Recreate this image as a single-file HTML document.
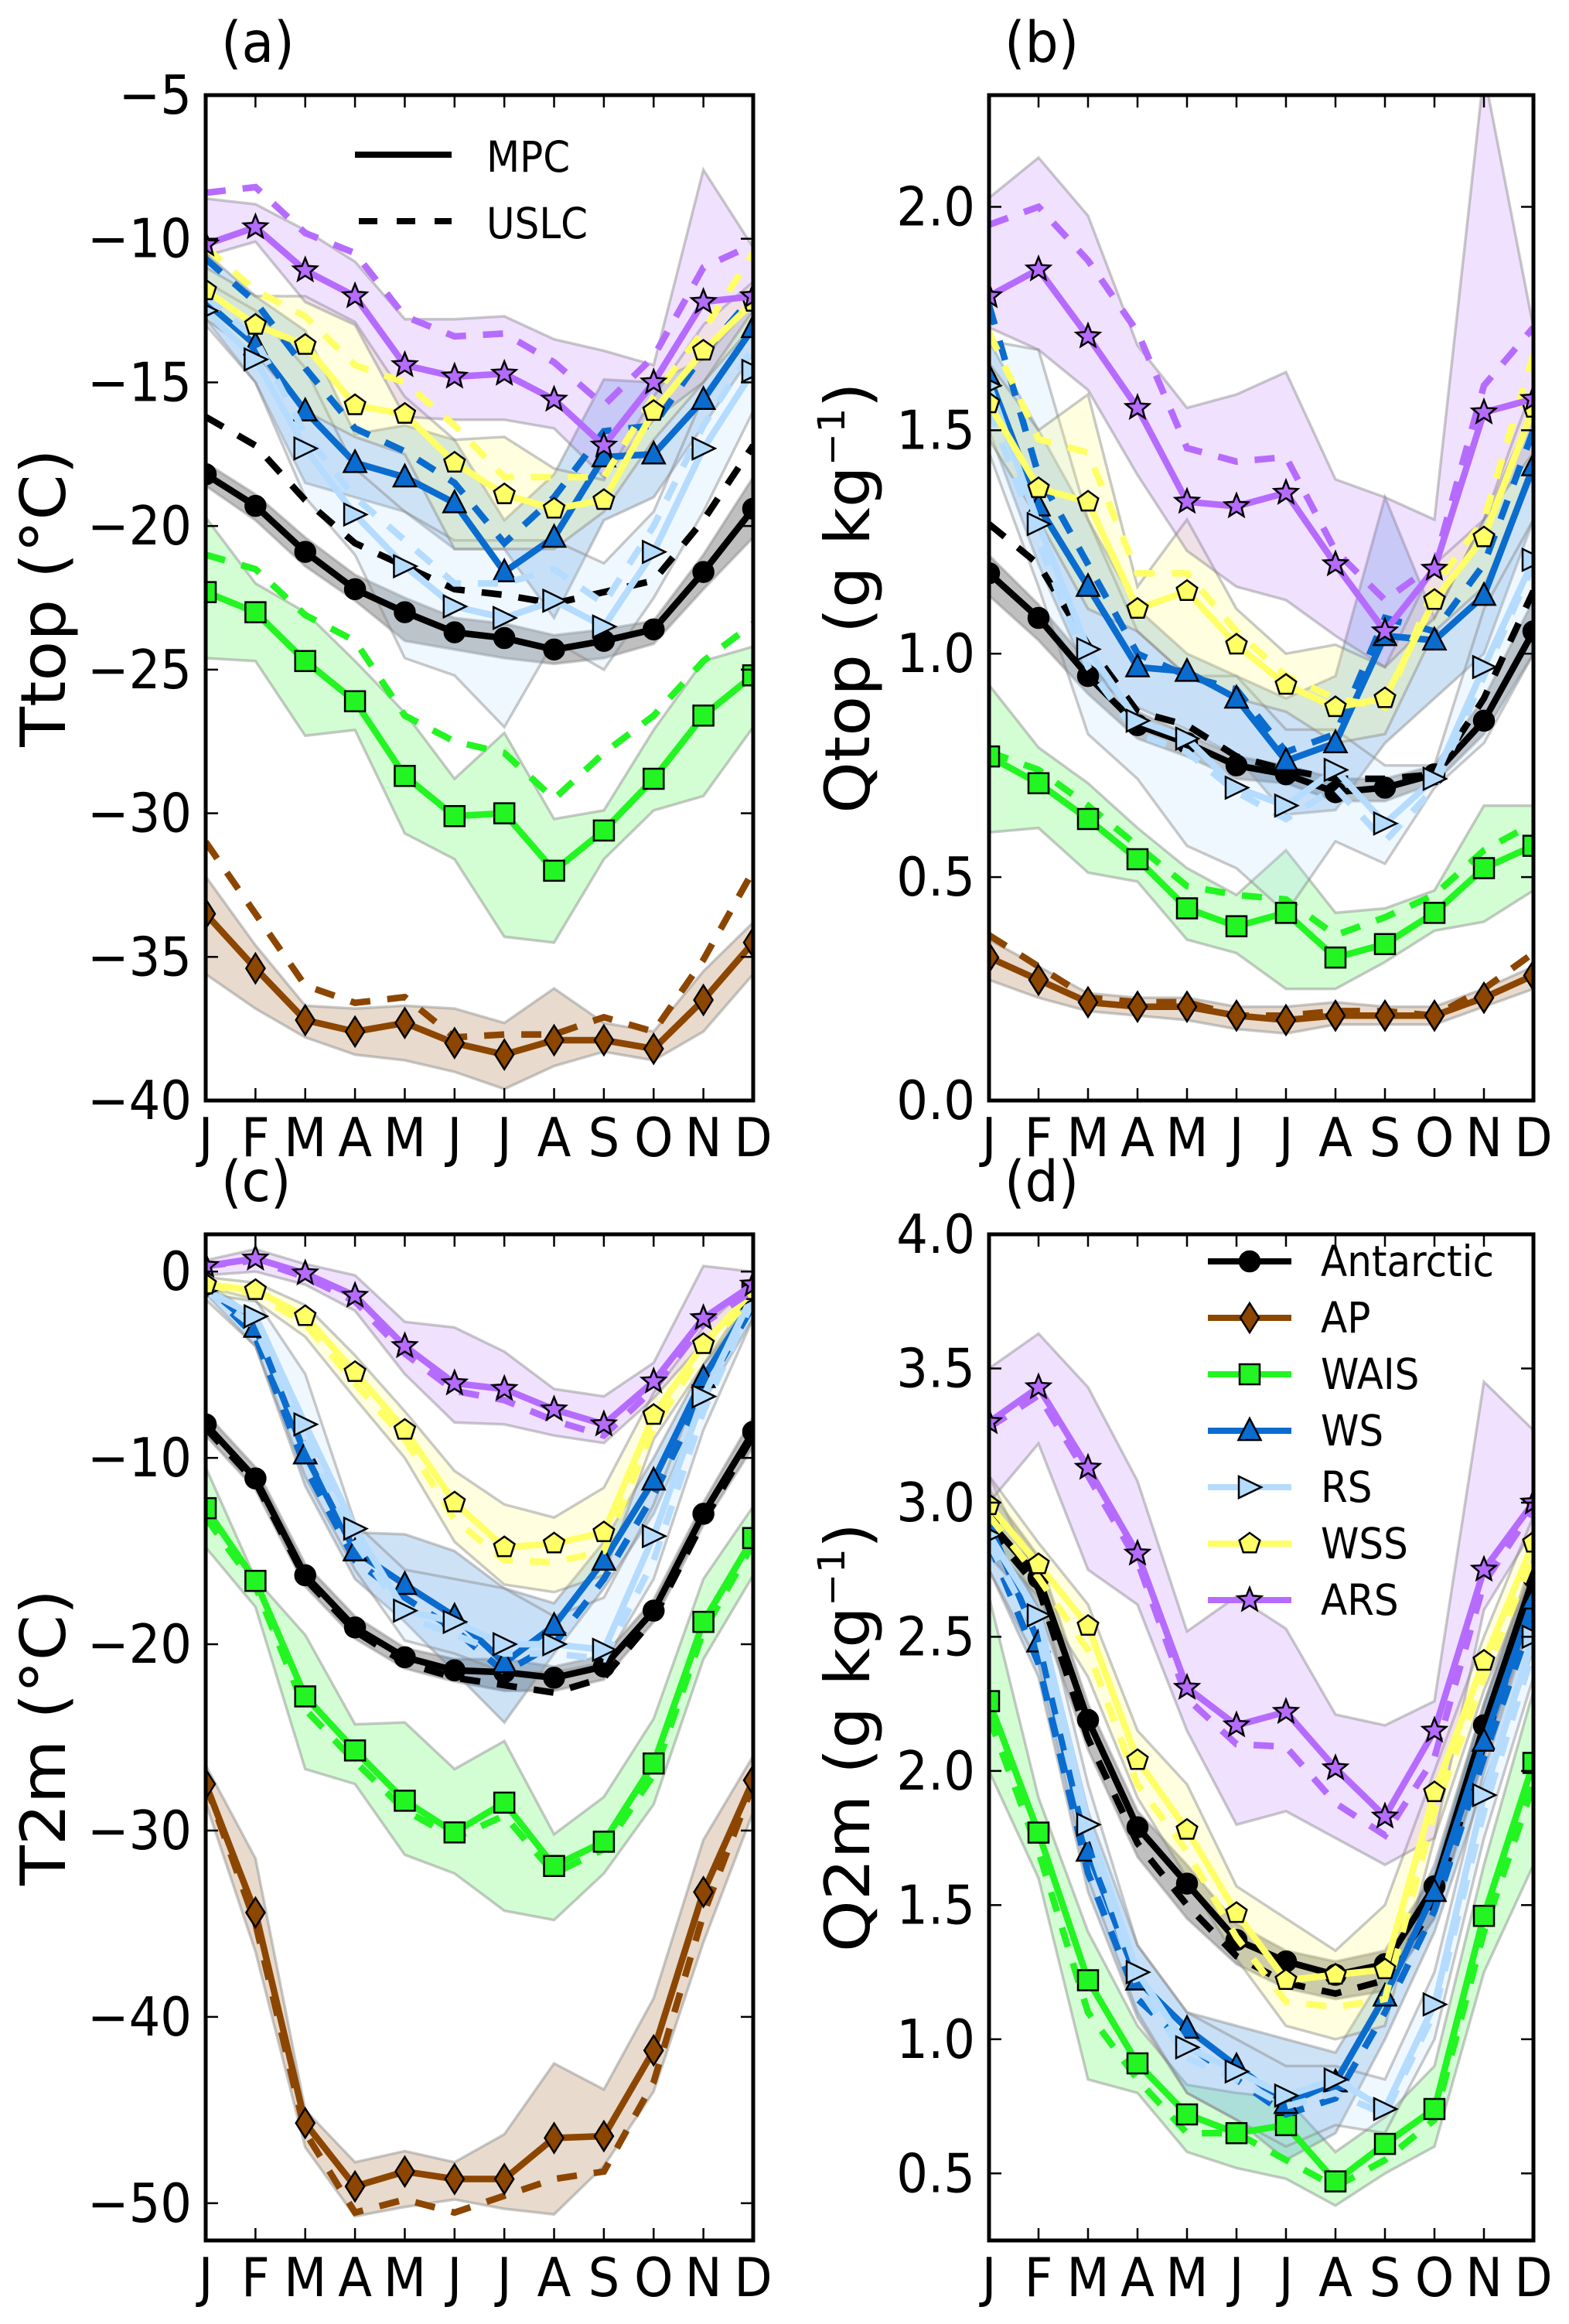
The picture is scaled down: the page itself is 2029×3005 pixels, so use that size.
<!DOCTYPE html>
<html><head><meta charset="utf-8"><style>
html,body{margin:0;padding:0;background:#fff;}
svg{display:block;font-family:"DejaVu Sans","Liberation Sans",sans-serif;}
</style></head><body>
<svg id="fig" width="2029" height="3005" viewBox="0 0 2029 3005" xmlns="http://www.w3.org/2000/svg"></svg>
<script>
const months = ["J","F","M","A","M","J","J","A","S","O","N","D"];
const regions = ["Antarctic","AP","WAIS","WS","RS","WSS","ARS"];
// panel (a) Ttop
const aTicks = [-40,-35,-30,-25,-20,-15,-10,-5];
const aAntMpc=[-18.2,-19.3,-20.9,-22.2,-23.0,-23.7,-23.9,-24.3,-24.0,-23.6,-21.6,-19.4];
const aAntUs=[-16.2,-17.2,-19.1,-20.6,-21.4,-22.2,-22.4,-22.7,-22.3,-21.9,-19.8,-17.2];
const aAntHi=[-17.8,-18.9,-20.4,-21.7,-22.5,-23.2,-23.4,-23.8,-23.6,-23.3,-21.0,-18.3];
const aAntLo=[-18.6,-19.8,-21.4,-22.6,-24.0,-24.3,-24.6,-24.8,-24.6,-24.1,-22.2,-20.4];
const aApMpc=[-33.5,-35.4,-37.2,-37.6,-37.3,-38.0,-38.4,-37.9,-37.9,-38.2,-36.5,-34.5];
const aApUs=[-31.0,-33.5,-36.0,-36.6,-36.4,-37.8,-37.7,-37.7,-37.1,-37.6,-35.1,-32.0];
const aApHi=[-32.2,-34.6,-36.7,-36.8,-36.7,-36.8,-37.3,-36.1,-37.3,-37.6,-35.5,-33.8];
const aApLo=[-35.6,-36.8,-37.8,-38.4,-38.6,-39.0,-39.6,-38.8,-38.3,-38.6,-37.6,-35.6];
const aWaisMpc=[-22.3,-23.0,-24.7,-26.1,-28.7,-30.1,-30.0,-32.0,-30.6,-28.8,-26.6,-25.2];
const aWaisUs=[-21.0,-21.5,-23.1,-24.0,-26.6,-27.5,-27.9,-29.5,-27.9,-26.6,-24.7,-23.4];
const aWaisHi=[-19.7,-22.0,-23.0,-24.7,-26.5,-28.8,-27.2,-30.2,-29.9,-27.1,-24.7,-24.2];
const aWaisLo=[-24.6,-24.7,-27.3,-27.1,-30.7,-31.6,-34.3,-34.5,-31.6,-29.9,-29.4,-27.0];
const aWsMpc=[-12.2,-13.7,-16.0,-17.8,-18.3,-19.2,-21.6,-20.4,-17.6,-17.5,-15.6,-13.1];
const aWsUs=[-10.7,-12.2,-14.5,-16.6,-17.4,-18.5,-20.6,-19.0,-16.7,-16.5,-14.0,-12.0];
const aWsHi=[-10.5,-12.0,-13.2,-16.8,-16.5,-17.0,-19.8,-18.2,-14.9,-15.0,-14.2,-12.2];
const aWsLo=[-12.8,-15.0,-18.5,-19.0,-19.5,-20.8,-20.8,-23.2,-19.8,-19.0,-16.5,-14.0];
const aRsMpc=[-12.5,-14.2,-17.3,-19.6,-21.4,-22.8,-23.2,-22.6,-23.5,-20.9,-17.3,-14.6];
const aRsUs=[-12.0,-13.5,-16.8,-19.0,-20.5,-22.0,-22.0,-21.5,-22.7,-20.0,-16.5,-13.8];
const aRsHi=[-11.5,-12.5,-14.5,-18.0,-19.5,-20.5,-20.5,-20.5,-21.3,-19.5,-15.5,-13.0];
const aRsLo=[-13.0,-15.0,-19.0,-21.0,-24.6,-25.2,-27.0,-24.0,-25.0,-22.5,-19.5,-16.0];
const aWssMpc=[-11.8,-13.0,-13.7,-15.8,-16.1,-17.8,-18.9,-19.4,-19.1,-16.0,-13.9,-12.2];
const aWssUs=[-10.3,-11.8,-12.7,-14.4,-15.0,-16.5,-18.3,-18.3,-18.3,-15.5,-13.2,-10.5];
const aWssHi=[-11.0,-12.0,-12.0,-12.9,-15.5,-17.0,-16.9,-18.0,-18.4,-15.5,-13.0,-11.5];
const aWssLo=[-12.8,-14.0,-16.0,-16.9,-17.5,-20.8,-20.8,-20.8,-19.5,-17.0,-15.0,-13.0];
const aArsMpc=[-10.2,-9.6,-11.1,-12.0,-14.4,-14.8,-14.7,-15.6,-17.2,-15.0,-12.2,-12.0];
const aArsUs=[-8.4,-8.2,-9.8,-10.5,-12.7,-13.4,-13.3,-14.3,-15.8,-14.1,-11.0,-10.2];
const aArsHi=[-8.6,-8.8,-9.7,-10.8,-12.8,-12.8,-12.7,-13.5,-13.9,-14.4,-7.6,-10.3];
const aArsLo=[-10.6,-10.1,-12.2,-13.0,-16.2,-16.3,-16.3,-16.6,-18.3,-16.3,-15.0,-12.5];
// panel (b) Qtop
const bTicks=[0,0.5,1.0,1.5,2.0];
const bAntMpc=[1.18,1.08,0.95,0.84,0.80,0.75,0.73,0.69,0.70,0.73,0.85,1.05];
const bAntUs=[1.29,1.20,1.02,0.87,0.84,0.77,0.74,0.72,0.72,0.73,0.90,1.14];
const bAntHi=[1.22,1.11,0.98,0.87,0.82,0.77,0.75,0.72,0.72,0.75,0.90,1.12];
const bAntLo=[1.13,1.03,0.91,0.81,0.77,0.72,0.71,0.67,0.67,0.71,0.82,1.00];
const bApMpc=[0.32,0.27,0.22,0.21,0.21,0.19,0.18,0.19,0.19,0.19,0.23,0.28];
const bApUs=[0.37,0.30,0.23,0.22,0.22,0.19,0.19,0.20,0.20,0.19,0.25,0.33];
const bApHi=[0.36,0.30,0.24,0.23,0.23,0.21,0.21,0.22,0.21,0.21,0.25,0.30];
const bApLo=[0.27,0.23,0.20,0.19,0.18,0.16,0.15,0.17,0.17,0.17,0.21,0.25];
const bWaisMpc=[0.77,0.71,0.63,0.54,0.43,0.39,0.42,0.32,0.35,0.42,0.52,0.57];
const bWaisUs=[0.78,0.74,0.66,0.57,0.48,0.46,0.45,0.37,0.41,0.46,0.56,0.62];
const bWaisHi=[0.93,0.79,0.71,0.61,0.52,0.46,0.56,0.42,0.43,0.47,0.66,0.66];
const bWaisLo=[0.60,0.61,0.51,0.49,0.36,0.33,0.25,0.25,0.31,0.38,0.40,0.47];
const bWsMpc=[1.62,1.33,1.15,0.97,0.96,0.90,0.76,0.80,1.04,1.03,1.13,1.42];
const bWsUs=[1.78,1.40,1.20,1.00,0.95,0.92,0.78,0.82,1.08,1.05,1.20,1.50];
const bWsHi=[1.70,1.50,1.30,1.10,1.00,0.95,0.90,0.95,1.35,1.08,1.30,1.55];
const bWsLo=[1.50,1.20,0.95,0.88,0.83,0.77,0.64,0.65,0.80,0.90,1.00,1.30];
const bRsMpc=[1.60,1.29,1.01,0.85,0.81,0.70,0.66,0.74,0.62,0.72,0.97,1.21];
const bRsUs=[1.55,1.25,0.97,0.82,0.78,0.69,0.63,0.70,0.58,0.70,0.95,1.20];
const bRsHi=[1.70,1.68,1.30,1.05,0.95,0.95,0.83,0.83,0.75,0.75,1.10,1.30];
const bRsLo=[1.45,1.15,0.82,0.72,0.57,0.52,0.42,0.58,0.53,0.70,0.80,1.00];
const bWssMpc=[1.56,1.37,1.34,1.10,1.14,1.02,0.93,0.88,0.90,1.12,1.26,1.55];
const bWssUs=[1.72,1.48,1.45,1.18,1.18,1.05,0.95,0.90,0.88,1.15,1.30,1.67];
const bWssHi=[1.65,1.50,1.58,1.15,1.30,1.10,1.00,1.02,0.97,1.20,1.30,1.60];
const bWssLo=[1.48,1.30,1.10,1.05,0.95,0.90,0.87,0.80,0.82,1.05,1.15,1.40];
const bArsMpc=[1.80,1.86,1.71,1.55,1.34,1.33,1.36,1.20,1.05,1.19,1.54,1.57];
const bArsUs=[1.96,2.00,1.88,1.72,1.46,1.43,1.44,1.23,1.12,1.20,1.60,1.73];
const bArsHi=[2.02,2.11,1.98,1.69,1.55,1.58,1.63,1.39,1.35,1.30,2.30,1.73];
const bArsLo=[1.73,1.68,1.59,1.40,1.23,1.15,1.12,1.04,0.97,1.08,1.30,1.45];
// panel (c) T2m
const cTicks=[-50,-40,-30,-20,-10,0];
const cAntMpc=[-8.2,-11.1,-16.3,-19.1,-20.7,-21.4,-21.5,-21.8,-21.2,-18.2,-13.0,-8.6];
const cAntUs=[-8.4,-11.3,-16.5,-19.3,-21.0,-21.8,-22.2,-22.6,-21.8,-18.6,-13.4,-8.8];
const cAntHi=[-7.6,-10.5,-15.7,-18.5,-20.2,-20.8,-20.8,-21.2,-20.6,-17.6,-12.4,-7.8];
const cAntLo=[-8.8,-11.7,-16.9,-19.7,-21.3,-22.0,-22.5,-22.5,-21.9,-18.8,-13.6,-9.4];
const cApMpc=[-27.5,-34.4,-45.7,-49.1,-48.3,-48.7,-48.7,-46.5,-46.4,-41.8,-33.3,-27.3];
const cApUs=[-27.5,-35.0,-46.2,-50.5,-49.8,-50.5,-49.6,-48.7,-48.3,-43.5,-34.5,-27.5];
const cApHi=[-26.5,-31.5,-45.0,-47.8,-47.2,-47.8,-46.3,-42.5,-43.9,-39.0,-30.5,-26.0];
const cApLo=[-28.5,-36.5,-47.0,-50.7,-50.2,-49.8,-50.3,-50.6,-48.0,-44.0,-36.0,-29.0];
const cWaisMpc=[-12.7,-16.6,-22.8,-25.7,-28.4,-30.1,-28.5,-31.9,-30.6,-26.4,-18.8,-14.3];
const cWaisUs=[-13.2,-16.9,-23.5,-26.3,-28.9,-30.4,-29.2,-32.3,-31.0,-27.0,-19.3,-14.6];
const cWaisHi=[-10.5,-16.5,-19.5,-24.3,-24.2,-26.7,-25.2,-30.2,-28.2,-24.0,-16.5,-12.6];
const cWaisLo=[-14.8,-18.0,-26.7,-27.5,-31.3,-32.3,-34.3,-34.8,-32.3,-28.6,-20.8,-16.3];
const cWsMpc=[-0.8,-3.0,-9.8,-15.0,-16.8,-18.5,-21.0,-19.0,-15.5,-11.2,-5.7,-1.5];
const cWsUs=[-0.8,-3.5,-10.5,-15.5,-17.5,-19.2,-21.5,-20.0,-16.5,-12.0,-6.5,-1.8];
const cWsHi=[-0.5,-2.5,-8.0,-14.0,-14.1,-15.0,-17.0,-17.8,-14.5,-10.0,-5.0,-1.0];
const cWsLo=[-1.2,-4.0,-11.5,-16.5,-18.8,-21.5,-24.2,-20.5,-17.0,-13.0,-7.0,-2.5];
const cRsMpc=[-1.0,-2.4,-8.2,-13.8,-18.2,-18.8,-20.0,-20.0,-20.3,-14.2,-6.7,-1.2];
const cRsUs=[-1.0,-3.0,-9.0,-14.5,-18.5,-19.5,-20.5,-20.5,-20.8,-15.5,-7.5,-1.5];
const cRsHi=[-0.8,-1.5,-5.5,-13.5,-16.0,-16.5,-17.0,-18.5,-17.5,-12.5,-5.5,-1.0];
const cRsLo=[-1.5,-4.0,-11.0,-16.0,-19.8,-20.5,-21.5,-21.5,-21.0,-16.5,-8.5,-2.5];
const cWssMpc=[-0.7,-1.0,-2.4,-5.4,-8.5,-12.4,-14.8,-14.6,-14.0,-7.7,-3.9,-1.0];
const cWssUs=[-0.7,-1.2,-2.8,-6.0,-9.0,-13.3,-15.5,-15.6,-15.0,-8.4,-4.2,-1.3];
const cWssHi=[-0.3,-0.6,-1.8,-4.5,-7.5,-10.7,-12.5,-13.2,-11.6,-6.5,-3.0,-0.6];
const cWssLo=[-1.2,-1.6,-3.5,-6.8,-10.0,-14.5,-16.8,-17.2,-16.3,-9.0,-5.0,-1.8];
const cArsMpc=[0.3,0.7,-0.1,-1.3,-4.0,-6.0,-6.3,-7.4,-8.2,-5.9,-2.5,-0.7];
const cArsUs=[0.3,0.6,-0.3,-1.6,-4.4,-6.4,-6.9,-8.0,-8.8,-6.3,-2.8,-1.0];
const cArsHi=[0.6,1.2,0.4,-0.2,-2.7,-3.0,-4.3,-6.3,-6.7,-4.9,0.3,0.0];
const cArsLo=[-0.2,0.0,-0.7,-2.1,-5.5,-8.1,-8.2,-8.8,-9.2,-6.8,-3.8,-1.3];
// panel (d) Q2m
const dTicks=[0.5,1.0,1.5,2.0,2.5,3.0,3.5,4.0];
const dAntMpc=[2.93,2.72,2.19,1.79,1.58,1.37,1.29,1.24,1.28,1.57,2.17,2.72];
const dAntUs=[2.90,2.68,2.12,1.73,1.50,1.31,1.21,1.17,1.22,1.50,2.10,2.65];
const dAntHi=[3.05,2.80,2.25,1.85,1.65,1.43,1.33,1.29,1.33,1.62,2.25,2.80];
const dAntLo=[2.80,2.60,2.08,1.68,1.45,1.28,1.19,1.15,1.18,1.45,2.05,2.60];
const dWaisMpc=[2.26,1.77,1.22,0.91,0.72,0.65,0.68,0.47,0.61,0.74,1.46,2.03];
const dWaisUs=[2.20,1.70,1.10,0.85,0.65,0.65,0.55,0.45,0.55,0.70,1.40,1.95];
const dWaisHi=[2.65,1.90,1.40,1.05,0.83,0.80,0.78,0.58,0.71,0.90,1.65,2.30];
const dWaisLo=[2.00,1.60,0.85,0.80,0.58,0.52,0.48,0.38,0.50,0.60,1.25,1.65];
const dWsMpc=[2.92,2.48,1.70,1.22,1.04,0.90,0.76,0.84,1.16,1.55,2.11,2.64];
const dWsUs=[2.85,2.40,1.62,1.15,0.98,0.85,0.72,0.78,1.10,1.48,2.05,2.58];
const dWsHi=[3.00,2.60,1.85,1.35,1.10,1.05,1.00,0.95,1.25,1.65,2.25,2.75];
const dWsLo=[2.75,2.35,1.55,1.08,0.80,0.70,0.55,0.65,1.00,1.40,1.95,2.45];
const dRsMpc=[2.88,2.58,1.80,1.25,0.97,0.88,0.79,0.85,0.74,1.13,1.91,2.50];
const dRsUs=[2.85,2.50,1.75,1.20,0.93,0.85,0.75,0.80,0.72,1.10,1.85,2.45];
const dRsHi=[3.10,2.70,1.95,1.35,1.10,1.00,0.90,0.90,0.85,1.25,2.00,2.60];
const dRsLo=[2.75,2.40,1.60,1.10,0.80,0.70,0.60,0.68,0.65,1.00,1.75,2.35];
const dWssMpc=[2.99,2.77,2.54,2.04,1.78,1.47,1.22,1.24,1.26,1.92,2.41,2.85];
const dWssUs=[2.95,2.72,2.45,1.95,1.70,1.38,1.14,1.12,1.15,1.85,2.35,2.80];
const dWssHi=[3.10,2.85,2.62,2.15,1.95,1.57,1.45,1.33,1.50,2.00,2.50,2.95];
const dWssLo=[2.85,2.65,2.35,1.90,1.60,1.30,1.05,1.00,1.05,1.75,2.30,2.75];
const dArsMpc=[3.30,3.43,3.13,2.81,2.31,2.17,2.22,2.01,1.83,2.15,2.75,3.00];
const dArsUs=[3.28,3.40,3.10,2.78,2.27,2.10,2.09,1.88,1.76,2.05,2.70,2.98];
const dArsHi=[3.50,3.63,3.43,3.08,2.52,2.65,2.53,2.21,2.17,2.26,3.45,3.27];
const dArsLo=[3.00,3.22,2.75,2.62,2.15,1.80,1.85,1.75,1.65,1.75,2.60,2.90];

const NS="http://www.w3.org/2000/svg";
const svg=document.getElementById('fig');
function mk(tag,attrs,parent){const e=document.createElementNS(NS,tag);for(const k in attrs)e.setAttribute(k,attrs[k]);(parent||svg).appendChild(e);return e;}
const colors={Antarctic:"#000000",AP:"#8c4600",WAIS:"#22f522",WS:"#0a6ccf",RS:"#b5dcff",WSS:"#ffff66",ARS:"#b66bff"};
const markerFill={Antarctic:"#000000",AP:"#8c4600",WAIS:"#22f522",WS:"#0a6ccf",RS:"#b5dcff",WSS:"#ffff66",ARS:"#b66bff"};
const markerType={Antarctic:"circle",AP:"diamond",WAIS:"square",WS:"tri",RS:"right",WSS:"pent",ARS:"star"};

function markerPath(t,x,y){
  if(t==="diamond")return `M${x},${y-19}L${x+12},${y}L${x},${y+19}L${x-12},${y}Z`;
  if(t==="square")return `M${x-13},${y-13}h26v26h-26Z`;
  if(t==="tri")return `M${x},${y-16}L${x+14.5},${y+12}L${x-14.5},${y+12}Z`;
  if(t==="right")return `M${x-14},${y-14}L${x+15},${y}L${x-14},${y+14}Z`;
  if(t==="pent"){let p="";for(let i=0;i<5;i++){const a=-Math.PI/2+i*2*Math.PI/5;p+=(i?"L":"M")+(x+14*Math.cos(a)).toFixed(1)+","+(y+14*Math.sin(a)).toFixed(1);}return p+"Z";}
  if(t==="star"){let p="";for(let i=0;i<10;i++){const r=i%2?7:16;const a=-Math.PI/2+i*Math.PI/5;p+=(i?"L":"M")+(x+r*Math.cos(a)).toFixed(1)+","+(y+r*Math.sin(a)).toFixed(1);}return p+"Z";}
  return "";
}
function drawMarker(t,x,y,fill,parent,name){
  let e;
  if(t==="circle")e=mk('circle',{cx:x,cy:y,r:13,fill:fill,stroke:"#000","stroke-width":2.5},parent);
  else e=mk('path',{d:markerPath(t,x,y),fill:fill,stroke:"#000","stroke-width":2.5,"stroke-linejoin":"miter"},parent);
  
  
  return e;
}
function txt(x,y,s,size,anchor,parent,name,sy){
  const t=mk('text',{transform:`translate(${x},${y}) scale(1,${sy||1.08})`,"font-size":size,"text-anchor":anchor||"start",fill:"#000"},parent);
  t.textContent=s;
  
  
  return t;
}

const panels=[
 {id:"a",L:266,R:974,T:123,B:1423,ymin:-40,ymax:-5,ticks:aTicks,dec:0,label:"Ttop (\u00B0C)",lx:60,
  series:{Antarctic:[aAntMpc,aAntUs,aAntHi,aAntLo],AP:[aApMpc,aApUs,aApHi,aApLo],WAIS:[aWaisMpc,aWaisUs,aWaisHi,aWaisLo],WS:[aWsMpc,aWsUs,aWsHi,aWsLo],RS:[aRsMpc,aRsUs,aRsHi,aRsLo],WSS:[aWssMpc,aWssUs,aWssHi,aWssLo],ARS:[aArsMpc,aArsUs,aArsHi,aArsLo]}},
 {id:"b",L:1279,R:1983,T:123,B:1423,ymin:0,ymax:2.25,ticks:bTicks,dec:1,label:"Qtop",lx:1100,
  series:{Antarctic:[bAntMpc,bAntUs,bAntHi,bAntLo],AP:[bApMpc,bApUs,bApHi,bApLo],WAIS:[bWaisMpc,bWaisUs,bWaisHi,bWaisLo],WS:[bWsMpc,bWsUs,bWsHi,bWsLo],RS:[bRsMpc,bRsUs,bRsHi,bRsLo],WSS:[bWssMpc,bWssUs,bWssHi,bWssLo],ARS:[bArsMpc,bArsUs,bArsHi,bArsLo]}},
 {id:"c",L:266,R:974,T:1596,B:2897,ymin:-52,ymax:2,ticks:cTicks,dec:0,label:"T2m (\u00B0C)",lx:60,
  series:{Antarctic:[cAntMpc,cAntUs,cAntHi,cAntLo],AP:[cApMpc,cApUs,cApHi,cApLo],WAIS:[cWaisMpc,cWaisUs,cWaisHi,cWaisLo],WS:[cWsMpc,cWsUs,cWsHi,cWsLo],RS:[cRsMpc,cRsUs,cRsHi,cRsLo],WSS:[cWssMpc,cWssUs,cWssHi,cWssLo],ARS:[cArsMpc,cArsUs,cArsHi,cArsLo]}},
 {id:"d",L:1279,R:1983,T:1596,B:2897,ymin:0.25,ymax:4.0,ticks:dTicks,dec:1,label:"Q2m",lx:1100,
  series:{Antarctic:[dAntMpc,dAntUs,dAntHi,dAntLo],WAIS:[dWaisMpc,dWaisUs,dWaisHi,dWaisLo],WS:[dWsMpc,dWsUs,dWsHi,dWsLo],RS:[dRsMpc,dRsUs,dRsHi,dRsLo],WSS:[dWssMpc,dWssUs,dWssHi,dWssLo],ARS:[dArsMpc,dArsUs,dArsHi,dArsLo]}}
];

const defs=mk('defs',{});
panels.forEach(p=>{
  const xs=i=>p.L+(p.R-p.L)*i/11;
  const ys=v=>p.B-(v-p.ymin)/(p.ymax-p.ymin)*(p.B-p.T);
  const g=mk('g',{});
  
  
  const cp=mk('clipPath',{id:'clip'+p.id},defs);
  mk('rect',{x:p.L,y:p.T,width:p.R-p.L,height:p.B-p.T},cp);
  const plot=mk('g',{"clip-path":`url(#clip${p.id})`},g);
  
  
  const names=Object.keys(p.series);
  names.forEach(n=>{
    const s=p.series[n];const hi=s[2],lo=s[3];
    let d="";
    hi.forEach((v,i)=>{d+=(i?"L":"M")+xs(i).toFixed(1)+","+ys(v).toFixed(1);});
    for(let i=11;i>=0;i--)d+="L"+xs(i).toFixed(1)+","+ys(lo[i]).toFixed(1);
    d+="Z";
    const b=mk('path',{d:d,fill:colors[n],"fill-opacity":n==="Antarctic"?0.25:0.2,stroke:"#888","stroke-opacity":0.45,"stroke-width":3.5},plot);
    
    
  });
  names.forEach(n=>{
    const s=p.series[n];
    const pts=arr=>arr.map((v,i)=>xs(i).toFixed(1)+","+ys(v).toFixed(1)).join(" ");
    const us=mk('polyline',{points:pts(s[1]),fill:"none",stroke:colors[n],"stroke-width":8.5,"stroke-dasharray":"26,22"},plot);
    
    
    const mp=mk('polyline',{points:pts(s[0]),fill:"none",stroke:colors[n],"stroke-width":8.5,"stroke-linejoin":"round"},plot);
    
    
    s[0].forEach((v,i)=>drawMarker(markerType[n],xs(i),ys(v),markerFill[n],plot,'marker-'+n.toLowerCase()+'-'+months[i]));
  });
  const fr=mk('rect',{x:p.L,y:p.T,width:p.R-p.L,height:p.B-p.T,fill:"none",stroke:"#000","stroke-width":5},g);
  
  
  months.forEach((m,i)=>{
    const x=xs(i);
    mk('line',{x1:x,y1:p.B,x2:x,y2:p.B-16,stroke:"#000","stroke-width":2.5},g);
    mk('line',{x1:x,y1:p.T,x2:x,y2:p.T+16,stroke:"#000","stroke-width":2.5},g);
    txt(x,p.B+72,m,64,"middle",g,'x-tick-'+m+'-'+p.id);
  });
  p.ticks.forEach(v=>{
    const y=ys(v);
    mk('line',{x1:p.L,y1:y,x2:p.L+16,y2:y,stroke:"#000","stroke-width":2.5},g);
    mk('line',{x1:p.R,y1:y,x2:p.R-16,y2:y,stroke:"#000","stroke-width":2.5},g);
    const s=(v<0?"\u2212":"")+Math.abs(v).toFixed(p.dec);
    txt(p.L-18,y+24,s,64,"end",g,'y-tick-'+p.id);
  });
  txt(p.L+20,p.T-43,"("+p.id+")",68,"start",g,'panel-title-'+p.id);
  const cy=(p.T+p.B)/2;
  const yl=mk('text',{transform:`translate(${p.lx+24},${cy}) rotate(-90) scale(1.06,1)`,"font-size":80,"text-anchor":"middle",fill:"#000"},g);
  
  
  if(p.dec){
    yl.textContent=p.label+" (g kg";
    const sp=mk('tspan',{"font-size":48,dy:-32},yl);sp.textContent="\u22121";
    const sp2=mk('tspan',{dy:32},yl);sp2.textContent=")";
  } else yl.textContent=p.label;
});

const lga=mk('g',{});


mk('line',{x1:459,y1:200,x2:584,y2:200,stroke:"#000","stroke-width":8},lga);
mk('line',{x1:464,y1:286,x2:584,y2:286,stroke:"#000","stroke-width":8,"stroke-dasharray":"24,25"},lga);
txt(629,222,"MPC",50,"start",lga,'legend-entry-mpc',1.1);
txt(629,308,"USLC",50,"start",lga,'legend-entry-uslc',1.1);

const lgd=mk('g',{});


regions.forEach((n,i)=>{
  const y=1631+i*73;
  const e=mk('g',{},lgd);
  
  
  mk('line',{x1:1562,y1:y,x2:1670,y2:y,stroke:colors[n],"stroke-width":8},e);
  drawMarker(markerType[n],1616,y,markerFill[n],e,'legend-marker-'+n.toLowerCase());
  txt(1708,y+19,n,50,"start",e,'legend-label-'+n.toLowerCase(),1.1);
});
</script>
</body></html>
